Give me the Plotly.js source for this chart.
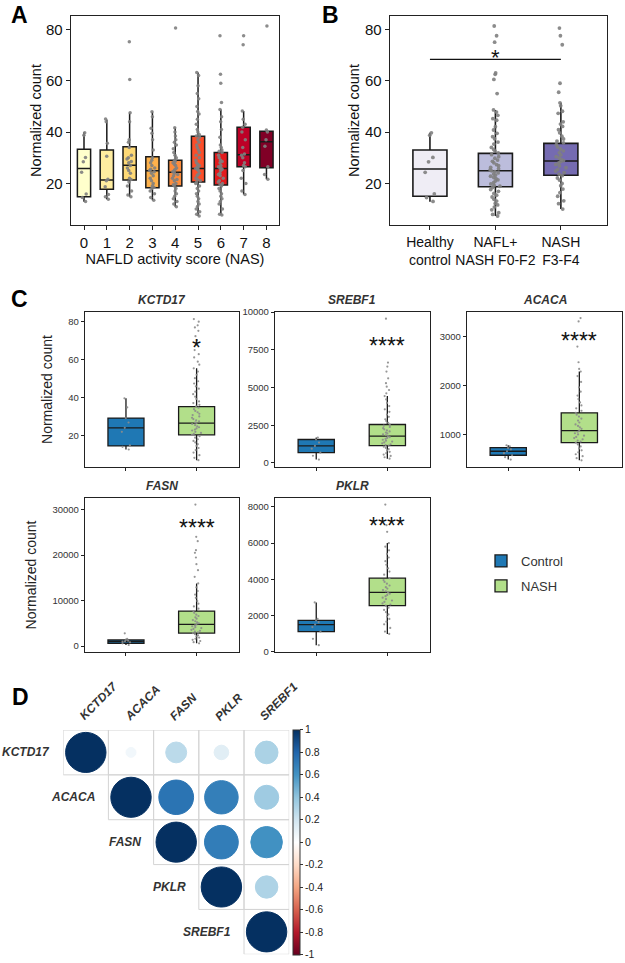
<!DOCTYPE html>
<html><head><meta charset="utf-8">
<script src="https://cdn.plot.ly/plotly-3.0.1.min.js"></script>
<style>html,body{margin:0;padding:0;background:#fff}#chart{width:625px;height:963px}</style>
</head><body><div id="chart"></div>
<script>
// ---------------- Panel A data ----------------
const nasCategories = ['0','1','2','3','4','5','6','7','8'];
const nasQ1     = [14.8, 17.7, 21.3, 18.3, 19.0, 20.5, 19.4, 26.5, 26.1];
const nasMedian = [25.8, 21.3, 27.1, 24.9, 24.3, 25.8, 25.8, 31.2, 36.2];
const nasQ3     = [33.3, 33.0, 34.3, 30.4, 29.0, 38.4, 32.0, 41.9, 40.3];
const nasLower  = [12.9, 13.8, 14.8, 13.4, 10.9, 7.3, 7.7, 15.7, 21.6];
const nasUpper  = [39.9, 44.9, 47.5, 47.9, 41.7, 63.2, 48.8, 48.2, 40.8];
const nas0Values = [39.7, 38.8, 30.1, 28.4, 24.3, 15.9, 14.5, 13.0];
const nas1Values = [45.1, 44.0, 35.6, 30.6, 21.6, 21.0, 18.7, 15.7, 14.8, 13.8];
const nas2Values = [75.2, 60.5, 47.5, 44.0, 37.0, 36.0, 34.0, 31.0, 30.0, 29.5, 28.5, 28.0, 27.0, 26.0, 25.0, 24.0, 22.0, 21.5, 20.5, 19.0, 17.0, 15.5, 14.8];
const nas3Values = [47.9, 46.0, 41.5, 39.5, 37.0, 33.0, 30.0, 29.0, 28.0, 27.0, 26.0, 25.5, 25.0, 24.5, 24.0, 23.0, 22.0, 21.0, 20.0, 19.0, 18.5, 18.0, 17.0, 16.0, 14.5, 13.4];
const nas4Values = [80.5, 41.7, 40.0, 38.5, 37.0, 36.0, 35.0, 33.5, 32.0, 31.0, 30.0, 29.0, 28.5, 28.0, 27.5, 27.0, 26.0, 25.5, 25.0, 24.5, 24.0, 23.5, 23.0, 22.0, 21.5, 21.0, 20.0, 19.5, 19.0, 18.0, 17.0, 16.0, 15.0, 14.0, 13.0, 12.0, 10.9];
const nas5Values = [63.2, 62.0, 58.0, 55.0, 53.0, 50.0, 48.0, 47.0, 45.0, 43.0, 41.0, 40.0, 39.0, 38.5, 38.0, 37.0, 36.0, 35.0, 34.0, 33.0, 32.0, 31.0, 30.0, 29.0, 28.0, 27.5, 27.0, 26.5, 26.0, 25.8, 25.5, 25.0, 24.0, 23.5, 23.0, 22.0, 21.5, 21.0, 20.5, 20.0, 19.0, 18.0, 17.0, 16.0, 15.0, 14.0, 13.0, 12.0, 11.0, 10.0, 9.0, 8.0, 7.3];
const nas6Values = [77.5, 62.5, 59.0, 51.5, 48.8, 46.0, 44.0, 41.0, 38.0, 35.0, 34.0, 33.0, 32.5, 32.0, 31.0, 30.0, 29.0, 28.5, 28.0, 27.0, 26.5, 26.0, 25.8, 25.5, 25.0, 24.0, 23.5, 23.0, 22.0, 21.0, 20.5, 20.0, 19.5, 19.0, 18.0, 17.0, 16.0, 15.0, 14.0, 13.0, 12.0, 10.0, 8.0, 7.7];
const nas7Values = [77.5, 74.0, 48.2, 45.0, 43.0, 41.9, 40.0, 37.0, 34.0, 31.5, 31.0, 30.0, 28.0, 27.0, 26.5, 25.0, 22.0, 20.0, 17.0, 15.7];
const nas8Values = [81.3, 40.8, 40.0, 37.0, 34.5, 26.5, 23.5, 21.6];

// ---------------- Panel B data ----------------
const groupB = ['Healthy control', 'NAFL+ NASH F0-F2', 'NASH F3-F4'];
const groupBLabels = ['Healthy<br>control', 'NAFL+<br>NASH F0-F2', 'NASH<br>F3-F4'];
const bQ1     = [15.0, 18.7, 23.2];
const bMedian = [25.6, 24.9, 28.7];
const bQ3     = [33.0, 31.7, 35.6];
const bLower  = [12.9, 7.3, 10.0];
const bUpper  = [39.7, 48.6, 51.4];
const healthyValues = [39.7, 38.8, 30.1, 28.4, 24.3, 15.9, 14.5, 13.0];
const naflValues = [81.3, 77.5, 75.0, 63.0, 62.5, 60.5, 55.0, 48.6, 47.8, 46.5, 45.2, 44.6, 42.1, 40.8, 39.5, 38.2, 37.4, 36.1, 35.3, 34.0, 33.2, 32.6, 31.9, 31.2, 30.4, 29.8, 29.1, 28.6, 28.0, 27.3, 26.9, 26.2, 25.7, 25.3, 24.9, 24.6, 24.1, 23.7, 23.2, 22.8, 22.3, 21.9, 21.4, 20.9, 20.3, 19.8, 19.2, 18.9, 18.4, 17.6, 16.9, 16.1, 15.4, 14.7, 13.8, 13.1, 12.2, 11.6, 10.8, 9.7, 8.6, 7.9, 7.3];
const nashF34Values = [80.5, 77.5, 74.0, 59.0, 55.5, 51.4, 50.2, 48.1, 47.3, 44.0, 43.1, 42.2, 40.9, 39.7, 38.4, 37.3, 36.5, 35.8, 35.1, 34.2, 33.4, 32.7, 31.9, 31.1, 30.4, 29.9, 29.3, 28.9, 28.5, 28.0, 27.4, 26.8, 26.1, 25.4, 24.8, 24.2, 23.6, 23.0, 22.1, 21.3, 20.0, 19.1, 17.8, 16.4, 15.0, 13.2, 12.1, 10.0];
const bSignificance = '*';

// ---------------- Panel C data ----------------
const cGroups = ['Control', 'NASH'];
const geneNames = ['KCTD17', 'SREBF1', 'ACACA', 'FASN', 'PKLR'];
const controlQ1     = [14.7, 692, 569, 593, 1101];
const controlMedian = [24.2, 1131, 651, 944, 1486];
const controlQ3     = [29.3, 1557, 727, 1317, 1725];
const controlLower  = [12.8, 226, 481, 220, 349];
const controlUpper  = [39.7, 1690, 774, 1600, 2716];
const nashQ1     = [20.5, 1154, 829, 2854, 2532];
const nashMedian = [26.7, 1775, 1075, 4756, 3266];
const nashQ3     = [35.3, 2552, 1438, 7683, 4055];
const nashLower  = [7.2, 288, 466, 585, 973];
const nashUpper  = [55.5, 4438, 2281, 13756, 6000];
const sigLabels  = ['*', '****', '****', '****', '****'];
const kctd17Control = [39.7, 35.0, 29.3, 27.0, 24.2, 22.1, 15.0, 14.2, 12.8];
const kctd17Nash = [81.4, 80.0, 78.1, 77.0, 75.2, 72.4, 70.3, 67.8, 65.1, 62.9, 61.2, 59.0, 57.4, 55.5, 53.8, 52.1, 50.3, 48.7, 47.5, 46.0, 44.8, 43.2, 41.9, 40.6, 39.4, 38.1, 37.2, 36.3, 35.5, 34.8, 34.0, 33.1, 32.4, 31.6, 30.9, 30.2, 29.5, 28.8, 28.1, 27.6, 27.0, 26.7, 26.2, 25.6, 25.0, 24.5, 23.9, 23.3, 22.8, 22.1, 21.5, 21.0, 20.5, 19.8, 19.0, 18.2, 17.3, 16.5, 15.6, 14.7, 13.6, 12.5, 11.2, 9.8, 8.4, 7.2];
const srebf1Control = [1690, 1557, 1350, 1131, 950, 692, 480, 226];
const srebf1Nash = [9564, 6657, 6391, 6058, 5614, 5290, 5060, 4838, 4620, 4438, 4210, 3980, 3770, 3560, 3390, 3210, 3060, 2900, 2790, 2660, 2552, 2470, 2390, 2310, 2230, 2160, 2090, 2020, 1960, 1900, 1840, 1775, 1720, 1660, 1600, 1540, 1480, 1420, 1360, 1300, 1240, 1190, 1154, 1080, 1000, 920, 830, 740, 650, 560, 470, 380, 288];
const acacaControl = [774, 752, 718, 690, 651, 612, 569, 530, 481];
const acacaNash = [3377, 3308, 2794, 2473, 2336, 2281, 2190, 2070, 1960, 1870, 1790, 1720, 1650, 1590, 1530, 1480, 1438, 1400, 1360, 1320, 1280, 1240, 1200, 1170, 1140, 1110, 1075, 1050, 1020, 995, 970, 945, 920, 895, 870, 850, 829, 790, 750, 710, 670, 630, 590, 550, 510, 466];
const fasnControl = [2788, 1600, 1317, 1180, 1040, 944, 820, 593, 220];
const fasnNash = [31097, 24000, 23050, 21070, 20500, 19463, 18000, 16683, 15220, 13756, 12900, 12100, 11300, 10600, 9900, 9300, 8700, 8200, 7683, 7300, 6900, 6600, 6300, 6000, 5700, 5450, 5200, 4980, 4756, 4550, 4350, 4150, 3950, 3750, 3550, 3350, 3150, 2990, 2854, 2600, 2350, 2100, 1850, 1600, 1350, 1100, 850, 585];
const pklrControl = [2716, 1800, 1725, 1620, 1486, 1350, 1101, 700, 349];
const pklrNash = [8129, 6991, 6624, 6000, 5800, 5600, 5400, 5200, 5000, 4800, 4600, 4420, 4250, 4055, 3950, 3850, 3750, 3650, 3560, 3480, 3400, 3330, 3266, 3200, 3130, 3060, 2980, 2900, 2820, 2740, 2660, 2600, 2532, 2420, 2300, 2180, 2050, 1920, 1800, 1650, 1500, 1300, 1100, 973];

// ---------------- Panel D data ----------------
const corrGenes = ['KCTD17', 'ACACA', 'FASN', 'PKLR', 'SREBF1'];
const corrKCTD17 = [1.00, 0.06, 0.27, 0.13, 0.32];
const corrACACA  = [0.06, 1.00, 0.74, 0.69, 0.36];
const corrFASN   = [0.27, 0.74, 1.00, 0.70, 0.61];
const corrPKLR   = [0.13, 0.69, 0.70, 1.00, 0.31];
const corrSREBF1 = [0.32, 0.36, 0.61, 0.31, 1.00];
const colorbarTicks = [1, 0.8, 0.6, 0.4, 0.2, 0, -0.2, -0.4, -0.6, -0.8, -1];

// ---------------- styles ----------------
const FONT = 'Liberation Sans, Arial, Helvetica, sans-serif';
const nasColors = ['#FFFFCC', '#FFEDA0', '#FED976', '#FEB24C', '#FD8D3C', '#FC4E2A', '#E31A1C', '#BD0026', '#800026'];
const bColors = ['#EFEDF5', '#BCBDDC', '#756BB1'];
const cColors = {Control: '#1F78B4', NASH: '#B2DF8A'};
const rdbu = [[0,'#67001F'],[0.1,'#B2182B'],[0.2,'#D6604D'],[0.3,'#F4A582'],[0.4,'#FDDBC7'],[0.5,'#FFFFFF'],[0.6,'#D1E5F0'],[0.7,'#92C5DE'],[0.8,'#4393C3'],[0.9,'#2166AC'],[1,'#053061']];

function statBox(xa, ya, cat, q1, med, q3, lo, hi, fill, w, lw, name, showlegend) {
  return {type:'box', xaxis:xa, yaxis:ya, x:[cat], q1:[q1], median:[med], q3:[q3],
    lowerfence:[lo], upperfence:[hi], fillcolor:fill, line:{color:'#1a1a1a', width:lw},
    width:w, whiskerwidth:0, boxpoints:false, name:name, showlegend:!!showlegend,
    legendgroup:name, hoverinfo:'y'};
}
function pointBox(xa, ya, cat, vals, w, jitter, size, color) {
  return {type:'box', xaxis:xa, yaxis:ya, x:vals.map(() => cat), y:vals, boxpoints:'all',
    jitter:jitter, pointpos:0, width:w, fillcolor:'rgba(0,0,0,0)',
    line:{color:'rgba(0,0,0,0)', width:0}, whiskerwidth:0,
    marker:{color:color, size:size, opacity:0.9}, showlegend:false, hoverinfo:'y'};
}

const traces = [];
// Panel A
const nasValues = [nas0Values, nas1Values, nas2Values, nas3Values, nas4Values, nas5Values, nas6Values, nas7Values, nas8Values];
nasCategories.forEach((c, i) => {
  traces.push(statBox('x', 'y', c, nasQ1[i], nasMedian[i], nasQ3[i], nasLower[i], nasUpper[i], nasColors[i], 0.58, 1.5, 'NAS ' + c, false));
});
nasCategories.forEach((c, i) => {
  traces.push(pointBox('x', 'y', c, nasValues[i], 0.58, 0.45, 3.5, '#7f7f7f'));
});
// Panel B
const bValues = [healthyValues, naflValues, nashF34Values];
groupB.forEach((g, i) => {
  traces.push(statBox('x2', 'y2', g, bQ1[i], bMedian[i], bQ3[i], bLower[i], bUpper[i], bColors[i], 0.52, 1.6, g, false));
});
groupB.forEach((g, i) => {
  traces.push(pointBox('x2', 'y2', g, bValues[i], 0.52, 0.35, 3.8, '#7f7f7f'));
});
// Panel C
const cAxes = [['x3','y3'],['x4','y4'],['x5','y5'],['x6','y6'],['x7','y7']];
const cControlVals = [kctd17Control, srebf1Control, acacaControl, fasnControl, pklrControl];
const cNashVals = [kctd17Nash, srebf1Nash, acacaNash, fasnNash, pklrNash];
geneNames.forEach((g, i) => {
  const [xa, ya] = cAxes[i];
  traces.push(statBox(xa, ya, 'Control', controlQ1[i], controlMedian[i], controlQ3[i], controlLower[i], controlUpper[i], cColors.Control, 0.51, 1.3, 'Control', i === 0));
  traces.push(statBox(xa, ya, 'NASH', nashQ1[i], nashMedian[i], nashQ3[i], nashLower[i], nashUpper[i], cColors.NASH, 0.51, 1.3, 'NASH', i === 0));
  traces.push(pointBox(xa, ya, 'Control', cControlVals[i], 0.51, 0.3, 2.2, '#8c8c8c'));
  traces.push(pointBox(xa, ya, 'NASH', cNashVals[i], 0.51, 0.3, 2.2, '#8c8c8c'));
});
// Panel D: colour scale trace (carries the colour bar)
const corrRows = [corrKCTD17, corrACACA, corrFASN, corrPKLR, corrSREBF1];
const dx = [], dy = [], dv = [];
corrRows.forEach((row, i) => row.forEach((v, j) => { if (j >= i) { dx.push(j); dy.push(i); dv.push(v); } }));
traces.push({type:'scatter', mode:'markers', xaxis:'x8', yaxis:'y8', x:dx, y:dy, showlegend:false,
  hoverinfo:'text', text:dv.map(v => v.toFixed(2)),
  marker:{size:2, opacity:0, color:dv, cmin:-1, cmax:1,
    colorscale:rdbu, showscale:true,
    colorbar:{x:293/625, xanchor:'left', y:1-842/963, yanchor:'middle', len:225, lenmode:'pixels',
      thickness:7, xpad:0, ypad:0, outlinewidth:1, outlinecolor:'#333',
      tickmode:'array', tickvals:colorbarTicks, ticktext:colorbarTicks.map(v => String(v)),
      ticks:'outside', ticklen:3, tickcolor:'#333', tickfont:{size:10.5, color:'#222', family:FONT}}}});

function hexToRgb(h){return [parseInt(h.slice(1,3),16),parseInt(h.slice(3,5),16),parseInt(h.slice(5,7),16)];}
function corrColor(v){
  const t = (v + 1) / 2;
  for (let k = 0; k < rdbu.length - 1; k++) {
    const [t0, c0] = rdbu[k], [t1, c1] = rdbu[k+1];
    if (t <= t1) {
      const f = (t - t0) / (t1 - t0), a = hexToRgb(c0), b = hexToRgb(c1);
      return 'rgb(' + a.map((x, n) => Math.round(x + (b[n] - x) * f)).join(',') + ')';
    }
  }
  return rdbu[rdbu.length-1][1];
}

// ---------------- layout ----------------
const frame = {showline:true, mirror:true, linecolor:'#222', linewidth:1.3, ticks:'outside', ticklen:4,
  tickcolor:'#222', showgrid:false, zeroline:false, fixedrange:true};
const rowAy = [1-225/963, 1-16/963];
const rowC1 = [1-467/963, 1-312/963];
const rowC2 = [1-652/963, 1-498/963];
const colC1 = [85/625, 239/625], colC2 = [275/625, 430/625], colC3 = [467/625, 622/625];
const cCols = [colC1, colC2, colC3, colC1, colC2];
const cRowsTop = [312, 312, 312, 498, 498];
const cTick = {size:9.5, color:'#333'};
const cx = (dom, anchor) => Object.assign({}, frame, {domain:dom, anchor:anchor, type:'category',
  categoryorder:'array', categoryarray:cGroups, range:[-0.58, 1.6], showticklabels:false, ticklen:3, linewidth:1.2});
const cy = (dom, anchor, range, dtick, title) => Object.assign({}, frame, {domain:dom, anchor:anchor,
  range:range, dtick:dtick, tick0:0, tickformat:'d', ticklen:3, tickfont:cTick, linewidth:1.2,
  title: title ? {text:'Normalized count', font:{size:14, color:'#222'}, standoff:12} : {text:''}});

const layout = {
  width:625, height:963, margin:{l:0, r:0, t:0, b:0}, paper_bgcolor:'#fff', plot_bgcolor:'rgba(0,0,0,0)',
  font:{family:FONT, color:'#222'}, boxmode:'overlay', hovermode:'closest',
  showlegend:true,
  legend:{x:481/625, y:1-546/963, xanchor:'left', yanchor:'top', font:{size:13, color:'#333'},
    bgcolor:'rgba(0,0,0,0)', tracegroupgap:5, traceorder:'grouped'},
  xaxis: Object.assign({}, frame, {domain:[71/625, 279/625], anchor:'y', type:'category', categoryorder:'array',
    categoryarray:nasCategories, range:[-0.57, 8.55], tickangle:0, tickfont:{size:15, color:'#111'},
    title:{text:'NAFLD activity score (NAS)', font:{size:14.5, color:'#111'}, standoff:3}}),
  yaxis: Object.assign({}, frame, {domain:rowAy, anchor:'x', range:[3.8, 85.2], dtick:20, tick0:0,
    tickfont:{size:15, color:'#111'}, title:{text:'Normalized count', font:{size:14.5, color:'#111'}, standoff:1}}),
  xaxis2: Object.assign({}, frame, {domain:[390/625, 606.7/625], anchor:'y2', type:'category', categoryorder:'array',
    categoryarray:groupB, range:[-0.61, 2.70], tickmode:'array', tickvals:groupB, ticktext:groupBLabels,
    tickangle:0, tickfont:{size:14, color:'#111'}}),
  yaxis2: Object.assign({}, frame, {domain:rowAy, anchor:'x2', range:[3.8, 85.2], dtick:20, tick0:0,
    tickfont:{size:15, color:'#111'}, title:{text:'Normalized count', font:{size:14.5, color:'#111'}, standoff:2}}),
  xaxis3: cx(colC1, 'y3'), yaxis3: cy(rowC1, 'x3', [3.6, 85.1], 20, true),
  xaxis4: cx(colC2, 'y4'), yaxis4: cy(rowC1, 'x4', [-266, 10008], 2500, false),
  xaxis5: cx(colC3, 'y5'), yaxis5: cy(rowC1, 'x5', [329, 3501], 1000, false),
  xaxis6: cx(colC1, 'y6'), yaxis6: cy(rowC2, 'x6', [-1317, 32546], 10000, true),
  xaxis7: cx(colC2, 'y7'), yaxis7: cy(rowC2, 'x7', [-30, 8495], 2000, false),
  xaxis8: {domain:[63.2/625, 289.2/625], anchor:'y8', range:[-0.5, 4.5], visible:false, fixedrange:true},
  yaxis8: {domain:[1-954.3/963, 1-730/963], anchor:'x8', range:[4.5, -0.5], visible:false, fixedrange:true},
  shapes:[], annotations:[]
};

// Panel labels
[['A', 19, 15], ['B', 330, 15], ['C', 19, 299], ['D', 20, 697]].forEach(([t, px, py]) => {
  layout.annotations.push({text:t, xref:'paper', yref:'paper', x:px/625, y:1-py/963, xanchor:'center', yanchor:'middle',
    showarrow:false, font:{size:23, color:'#000', family:FONT, weight:'bold'}});
});
// Panel B significance bar
layout.shapes.push({type:'line', xref:'x2', yref:'y2', x0:0, x1:2, y0:68.3, y1:68.3, line:{color:'#111', width:1.2}});
layout.annotations.push({text:bSignificance, xref:'x2', yref:'y2', x:groupB[1], y:68.3, yanchor:'middle', yshift:2,
  showarrow:false, font:{size:22, color:'#111'}});
// Panel C titles and significance
const sigY = [69.3, 8166, 3034, 27292, 7303];
geneNames.forEach((g, i) => {
  const [xa, ya] = cAxes[i];
  const dom = cCols[i];
  layout.annotations.push({text:g, xref:'paper', yref:'paper', x:(dom[0] + dom[1]) / 2, y:1 - (cRowsTop[i] - 3) / 963,
    xanchor:'center', yanchor:'bottom', showarrow:false,
    font:{size:12, color:'#333', style:'italic', weight:'bold'}});
  layout.annotations.push({text:sigLabels[i], xref:xa, yref:ya, x:'NASH', y:sigY[i], yanchor:'middle', yshift:-6,
    showarrow:false, font:{size:23, color:'#111'}});
});
// Panel D cells, ellipses and labels
const dLabelFont = {size:12, color:'#333', style:'italic', weight:'bold'};
corrRows.forEach((row, i) => {
  row.forEach((v, j) => {
    if (j < i) return;
    layout.shapes.push({type:'rect', xref:'x8', yref:'y8', x0:j-0.5, x1:j+0.5, y0:i-0.5, y1:i+0.5,
      line:{color:'#d4d4d4', width:1}, fillcolor:'rgba(0,0,0,0)', layer:'below'});
    const r = 0.447 * Math.sqrt(Math.abs(v));
    const col = corrColor(v);
    layout.shapes.push({type:'circle', xref:'x8', yref:'y8', x0:j-r, x1:j+r, y0:i-r, y1:i+r,
      fillcolor:col, line:{color:col, width:1}});
  });
  layout.annotations.push({text:corrGenes[i], xref:'x8', yref:'y8', x:i-0.5, y:i, xanchor:'right', yanchor:'middle',
    xshift:-11, showarrow:false, font:dLabelFont});
  layout.annotations.push({text:corrGenes[i], xref:'x8', yref:'y8', x:i, y:-0.5, xanchor:'left', yanchor:'bottom',
    xshift:-12, yshift:4, textangle:-45, showarrow:false, font:dLabelFont});
});

Plotly.newPlot('chart', traces, layout, {staticPlot:true, displayModeBar:false});
</script>
</body></html>
